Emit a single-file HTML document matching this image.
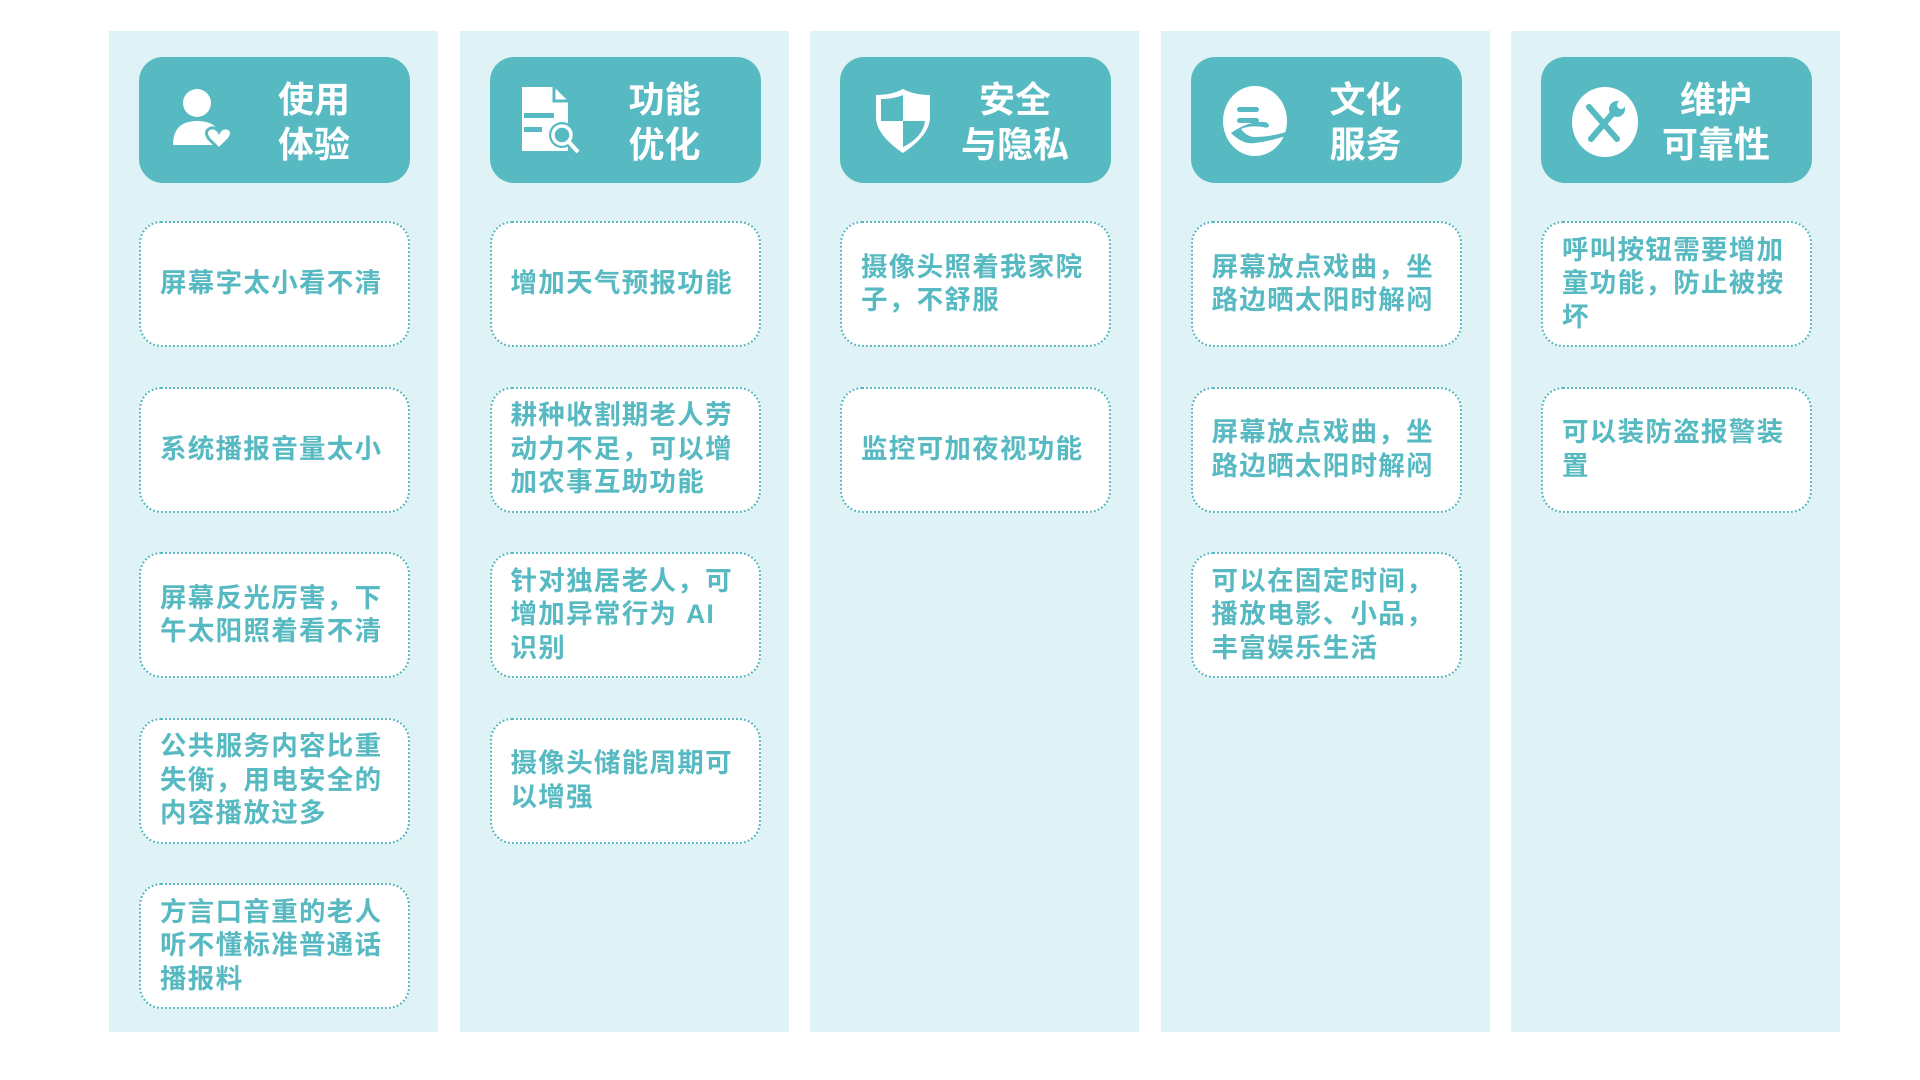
<!DOCTYPE html>
<html><head><meta charset="utf-8"><style>
*{margin:0;padding:0;box-sizing:border-box}
body{width:1920px;height:1080px;background:#fff;position:relative;overflow:hidden;font-family:"Liberation Sans","Noto Sans CJK SC",sans-serif}
.col{position:absolute;top:31px;width:329px;height:1001px;background:#dff2f5}
.hd{position:absolute;left:30px;top:26px;width:271px;height:126px;background:#57b9c1;border-radius:24px}
.hd svg{position:absolute;left:28px;top:28px}
.ht{position:absolute;left:105px;width:140px;top:2px;height:126px;display:flex;align-items:center;justify-content:center;text-align:center;color:#fff;font-weight:bold;font-size:36px;line-height:45px}
.cd{position:absolute;left:30px;width:271px;height:126px;background:#fff;border:2px dotted #57b9c1;border-radius:22px;display:flex;align-items:center;padding:0 16px 0 19px;color:#57b9c1;font-weight:bold;font-size:26.5px;line-height:33.5px;letter-spacing:1.3px}
</style></head><body>

<div class="col" style="left:109px">
 <div class="hd"><svg width="70" height="70" viewBox="0 0 70 70"><circle cx="30" cy="18" r="14" fill="#fff"/><path d="M6 60 Q6 36 30 36 Q46 36 52 46 L48 60 Z" fill="#fff"/><path d="M52 64 L42 54 Q36 46 44 43 Q49 42 52 47 Q55 42 60 43 Q68 46 62 54 Z" fill="#fff" stroke="#57b9c1" stroke-width="3"/></svg><div class="ht">使用<br>体验</div></div>
 <div class="cd" style="top:190px">屏幕字太小看不清</div>
 <div class="cd" style="top:355.5px">系统播报音量太小</div>
 <div class="cd" style="top:521px">屏幕反光厉害，下午太阳照着看不清</div>
 <div class="cd" style="top:686.5px">公共服务内容比重失衡，用电安全的内容播放过多</div>
 <div class="cd" style="top:852px">方言口音重的老人听不懂标准普通话播报料</div>
</div>

<div class="col" style="left:459.5px">
 <div class="hd"><svg width="70" height="70" viewBox="0 0 70 70"><path d="M4 2 H36 L50 16 V66 H4 Z" fill="#fff"/><path d="M36 2 V16 H50" fill="none" stroke="#57b9c1" stroke-width="3"/><rect x="6" y="28" width="30" height="5" fill="#57b9c1"/><rect x="6" y="42" width="18" height="5" fill="#57b9c1"/><circle cx="44" cy="50" r="13" fill="#57b9c1"/><circle cx="44" cy="50" r="9" fill="none" stroke="#fff" stroke-width="3.5"/><path d="M51 57 L60 67" stroke="#fff" stroke-width="4"/></svg><div class="ht">功能<br>优化</div></div>
 <div class="cd" style="top:190px">增加天气预报功能</div>
 <div class="cd" style="top:355.5px">耕种收割期老人劳动力不足，可以增加农事互助功能</div>
 <div class="cd" style="top:521px">针对独居老人，可增加异常行为 AI识别</div>
 <div class="cd" style="top:686.5px">摄像头储能周期可以增强</div>
</div>

<div class="col" style="left:810px">
 <div class="hd"><svg width="70" height="70" viewBox="0 0 70 70"><path d="M35 4 Q46 10 62 10 V32 Q62 50 35 68 Q8 50 8 32 V10 Q24 10 35 4 Z" fill="#fff"/><path d="M35 10 V36 H13 V14 Q26 14 35 10 Z M35 36 H57 Q55 52 35 62 Z" fill="#57b9c1"/></svg><div class="ht">安全<br>与隐私</div></div>
 <div class="cd" style="top:190px">摄像头照着我家院子，不舒服</div>
 <div class="cd" style="top:355.5px">监控可加夜视功能</div>
</div>

<div class="col" style="left:1160.5px">
 <div class="hd"><svg width="74" height="74" viewBox="0 0 74 74"><ellipse cx="36" cy="36" rx="32" ry="35" fill="#fff"/><rect x="18" y="22" width="22" height="5" rx="2.5" fill="#57b9c1"/><rect x="18" y="33" width="22" height="5" rx="2.5" fill="#57b9c1"/><path d="M12 48 Q24 60 36 58 Q52 56 70 50 L70 46 Q52 52 36 52 Q28 52 22 44 Q30 40 44 42 Q50 44 50 40 Q48 36 40 37 Q26 38 12 48 Z" fill="#57b9c1"/></svg><div class="ht">文化<br>服务</div></div>
 <div class="cd" style="top:190px">屏幕放点戏曲，坐路边晒太阳时解闷</div>
 <div class="cd" style="top:355.5px">屏幕放点戏曲，坐路边晒太阳时解闷</div>
 <div class="cd" style="top:521px">可以在固定时间，播放电影、小品，丰富娱乐生活</div>
</div>

<div class="col" style="left:1511px">
 <div class="hd"><svg width="74" height="74" viewBox="0 0 74 74"><ellipse cx="36" cy="37" rx="33" ry="35" fill="#fff"/><path d="M20 22 L48 54" stroke="#57b9c1" stroke-width="6" stroke-linecap="round"/><path d="M22 54 L44 28" stroke="#57b9c1" stroke-width="6" stroke-linecap="round"/><circle cx="48" cy="24" r="8" fill="#57b9c1"/><circle cx="52" cy="20" r="4" fill="#fff"/></svg><div class="ht">维护<br>可靠性</div></div>
 <div class="cd" style="top:190px">呼叫按钮需要增加童功能，防止被按坏</div>
 <div class="cd" style="top:355.5px">可以装防盗报警装置</div>
</div>

</body></html>
